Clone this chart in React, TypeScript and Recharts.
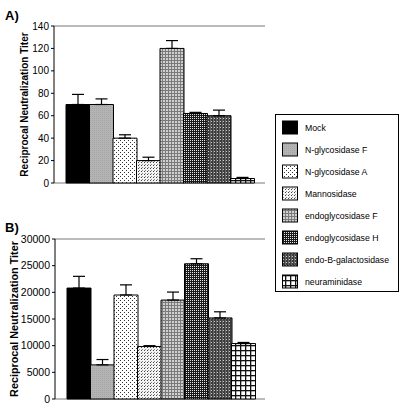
import React from 'react';
import { BarChart, Bar, XAxis, YAxis, CartesianGrid, Cell, ErrorBar } from 'recharts';

const categories = ['Mock', 'N-glycosidase F', 'N-glycosidase A', 'Mannosidase', 'endoglycosidase F', 'endoglycosidase H', 'endo-B-galactosidase', 'neuraminidase'];
const valuesA = [70, 70, 40, 20, 120, 62, 60, 4];
const errTopA = [79, 75, 43, 23, 127, 63, 65, 5];
const valuesB = [20800, 6400, 19500, 9850, 18550, 25350, 15200, 10400];
const errTopB = [23000, 7400, 21400, 10000, 20050, 26300, 16350, 10600];
const ticksA = [0, 20, 40, 60, 80, 100, 120, 140];
const ticksB = [0, 5000, 10000, 15000, 20000, 25000, 30000];
const fills = ['#000000', 'url(#pNF)', 'url(#pNA)', 'url(#pM)', 'url(#pEF)', 'url(#pEH)', 'url(#pEB)', 'url(#pN)'];

const FONT = 'Arial, "Liberation Sans", sans-serif';

const buildData = (vals: number[], tops: number[]) =>
  categories.map((c, i) => ({ name: c, value: vals[i], err: [0, tops[i] - vals[i]] }));

const dataA = buildData(valuesA, errTopA);
const dataB = buildData(valuesB, errTopB);

function Patterns() {
  return (
    <svg width={0} height={0} style={{ position: 'absolute', left: 0, top: 0 }}>
      <defs>
        <pattern id="pNF" width={2} height={2} patternUnits="userSpaceOnUse">
          <rect width={2} height={2} fill="#b4b4b4" />
          <rect x={0} y={0} width={1} height={1} fill="#a4a4a4" />
        </pattern>
        <pattern id="pNA" width={4} height={4} patternUnits="userSpaceOnUse">
          <rect width={4} height={4} fill="#ffffff" />
          <rect x={0} y={0} width={1} height={1} fill="#333" />
          <rect x={2} y={2} width={1} height={1} fill="#333" />
        </pattern>
        <pattern id="pM" width={3} height={3} patternUnits="userSpaceOnUse">
          <rect width={3} height={3} fill="#f4f4f4" />
          <rect x={0} y={0} width={1} height={1} fill="#444" />
          <rect x={1} y={2} width={1} height={1} fill="#888" />
        </pattern>
        <pattern id="pEF" width={3} height={3} patternUnits="userSpaceOnUse">
          <rect width={3} height={3} fill="#d0d0d0" />
          <rect x={0} y={0} width={3} height={1} fill="#7a7a7a" />
          <rect x={0} y={0} width={1} height={3} fill="#7a7a7a" />
        </pattern>
        <pattern id="pEH" width={2} height={2} patternUnits="userSpaceOnUse">
          <rect width={2} height={2} fill="#1a1a1a" />
          <rect x={0} y={0} width={1} height={1} fill="#e8e8e8" />
        </pattern>
        <pattern id="pEB" width={3} height={3} patternUnits="userSpaceOnUse">
          <rect width={3} height={3} fill="#3c3c3c" />
          <rect x={1} y={1} width={1} height={1} fill="#c8c8c8" />
          <rect x={0} y={0} width={1} height={3} fill="#6a6a6a" />
        </pattern>
        <pattern id="pN" width={5} height={5} patternUnits="userSpaceOnUse">
          <rect width={5} height={5} fill="#ffffff" />
          <rect x={0} y={0} width={5} height={1.3} fill="#111" />
          <rect x={0} y={0} width={1.3} height={5} fill="#111" />
        </pattern>
      </defs>
    </svg>
  );
}

function Panel({ data, ticks, max, yWidth, labelX, labelSize, margin, height, padL, padR }: any) {
  return (
    <BarChart width={270} height={height} data={data} margin={margin} barCategoryGap={0}>
      <CartesianGrid horizontal vertical={false} stroke="#777" strokeWidth={1} />
      <XAxis dataKey="name" tick={false} tickLine={false} height={0} axisLine={{ stroke: '#000' }} padding={{ left: padL, right: padR }} />
      <YAxis
        yAxisId="l"
        width={yWidth}
        domain={[0, max]}
        ticks={ticks}
        interval={0}
        tickSize={3}
        tickMargin={2}
        axisLine={{ stroke: '#000' }}
        tickLine={{ stroke: '#000' }}
        tick={{ fill: '#000', fontSize: labelSize === 10 ? 10 : 10.5, fontFamily: FONT }}
        label={{ value: 'Reciprocal Neutralization Titer', angle: -90, position: 'insideLeft', offset: labelX, style: { textAnchor: 'middle', fontWeight: 'bold', fontSize: labelSize, fill: '#000', fontFamily: FONT } }}
      />
      <YAxis yAxisId="r" orientation="right" width={0} domain={[0, 1]} tick={false} tickLine={false} axisLine={{ stroke: '#555' }} />
      <Bar yAxisId="l" dataKey="value" stroke="#000" strokeWidth={1} isAnimationActive={false}>
        {data.map((d: any, i: number) => (
          <Cell key={d.name} fill={fills[i]} />
        ))}
        <ErrorBar dataKey="err" width={6} stroke="#000" strokeWidth={1.2} direction="y" />
      </Bar>
    </BarChart>
  );
}

export default function App() {
  return (
    <div style={{ position: 'absolute', left: 0, top: 0, width: 405, height: 407, background: '#fff', fontFamily: FONT }}>
      <Patterns />
      <div style={{ position: 'absolute', left: 0, top: 0 }}>
        <Panel data={dataA} ticks={ticksA} max={140} yWidth={54} labelX={24} labelSize={10}
          margin={{ top: 26, right: 5, bottom: 17, left: 0 }} height={200} padL={12} padR={11} />
      </div>
      <div style={{ position: 'absolute', left: 0, top: 200 }}>
        <Panel data={dataB} ticks={ticksB} max={30000} yWidth={55} labelX={14} labelSize={10.8}
          margin={{ top: 39, right: 5, bottom: 8, left: 0 }} height={207} padL={12} padR={10} />
      </div>
      <svg width={405} height={407} style={{ position: 'absolute', left: 0, top: 0, pointerEvents: 'none' }}>
        <text x={5} y={20} fontSize={13} fontWeight="bold" fontFamily={FONT} fill="#000">A)</text>
        <text x={5} y={232} fontSize={13} fontWeight="bold" fontFamily={FONT} fill="#000">B)</text>
        <rect x={275.5} y={114.5} width={123} height={177} fill="#fff" stroke="#000" strokeWidth={1} />
        {categories.map((c, i) => (
          <g key={c}>
            <rect x={282.5} y={121 + i * 22} width={15} height={13} fill={fills[i]} stroke="#000" strokeWidth={1} />
            <text x={305} y={130.5 + i * 22} fontSize={8.7} fontFamily={FONT} fill="#000">{c}</text>
          </g>
        ))}
      </svg>
    </div>
  );
}
